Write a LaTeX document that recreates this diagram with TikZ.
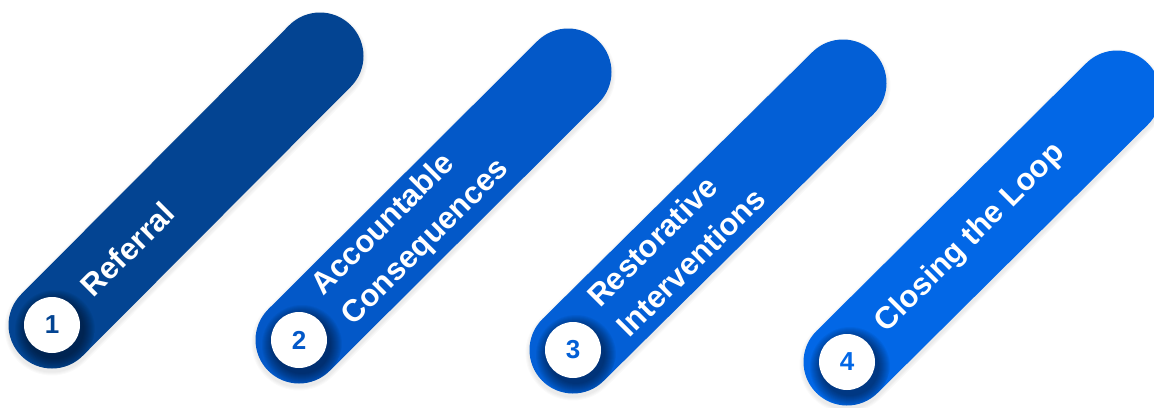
\documentclass[tikz,border=0pt]{standalone}
\usepackage{fontspec}
\setmainfont{Liberation Sans}
\definecolor{stepone}{RGB}{3,68,146}
\definecolor{steptwo}{RGB}{3,88,200}
\definecolor{stepthree}{RGB}{3,95,214}
\definecolor{stepfour}{RGB}{2,103,230}
\tikzset{
  pill/.style={line width=87pt, line cap=round},
  numdisc/.style={circle, fill=white, minimum size=56pt, inner sep=0pt,
    font=\fontsize{26}{26}\selectfont\bfseries},
  steplabel/.style={rotate=45, anchor=west, inner sep=0pt, align=left,
    text=white, font=\fontsize{31}{42}\selectfont\bfseries}
}
\begin{document}
\begin{tikzpicture}[x=1pt,y=-1pt]
\useasboundingbox (0,0) rectangle (1154,407);
\foreach \bx/\by/\tx/\ty/\col/\num/\lbl in {
    52/325/320/56/stepone/1/Referral,
    299/340/568/72/steptwo/2/{Accountable\\Consequences},
    573/350/843/83/stepthree/3/{Restorative\\Interventions},
    847/362/1117/94/stepfour/4/{Closing the Loop}}
{
  % soft shadow of the bar
  \foreach \s in {1,...,4}
    \draw[pill, line width={87+2*\s}, black, opacity=0.02] (\bx,\by+3) -- (\tx,\ty+3);
  \draw[pill, draw=\col] (\bx,\by) -- (\tx,\ty);
  % shadow of the disc
  \begin{scope}
    \clip (\bx,\by) circle[radius=43.5];
    \foreach \r in {29,...,40}
      \fill[black, opacity=0.045] (\bx+3,\by+5) circle[radius=\r];
  \end{scope}
  \node[numdisc, text=\col] (n\num) at (\bx,\by) {\num};
  \node[steplabel] (t\num) at (\bx+34,\by-34) {\lbl};
}
\end{tikzpicture}
\end{document}
